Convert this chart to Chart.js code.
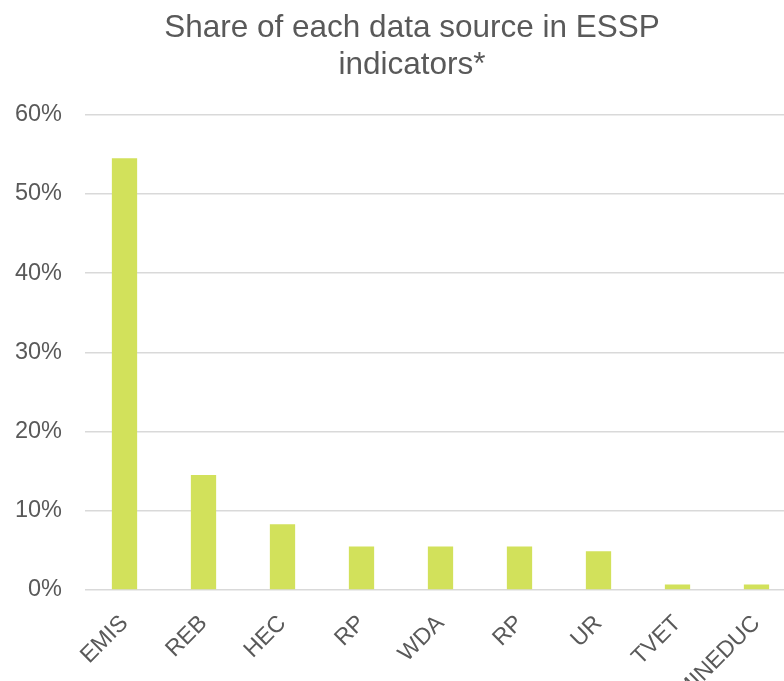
<html>
<head>
<meta charset="utf-8">
<style>
  body { margin: 0; overflow: hidden; background: #fff; }
  #wrap { width: 820px; height: 681px; }
</style>
</head>
<body>
<div id="wrap"><canvas id="myChart"></canvas></div>
<script src="https://cdn.jsdelivr.net/npm/chart.js"></script>
<script>
var sources = ['EMIS', 'REB', 'HEC', 'RP', 'WDA', 'RP', 'UR', 'TVET', 'MINEDUC'];
var shares = [54.5, 14.5, 8.3, 5.5, 5.5, 5.5, 4.9, 0.7, 0.7];
var yTicks = [0, 10, 20, 30, 40, 50, 60];

var grey = '#595959';
Chart.defaults.font.family = '"Liberation Sans", Arial, sans-serif';

// the original title sits a little right of the canvas centre
var nudgeTitle = {
    id: 'nudgeTitle',
    afterLayout: function(chart) {
        var t = chart.titleBlock;
        if (t) { t.left += 14; t.right += 14; }
    }
};

var ctx = document.getElementById('myChart').getContext('2d');
var chart = new Chart(ctx, {
    type: 'bar',
    data: {
        labels: sources,
        datasets: [{
            data: shares,
            backgroundColor: '#d2e15b',
            borderWidth: 0,
            categoryPercentage: 1,
            barPercentage: 0.32
        }]
    },
    plugins: [nudgeTitle],
    options: {
        responsive: true,
        maintainAspectRatio: false,
        animation: false,
        layout: { padding: { left: 0, right: 24, top: 0, bottom: 0 } },
        plugins: {
            legend: { display: false },
            tooltip: { enabled: false },
            title: {
                display: true,
                text: ['Share of each data source in ESSP', 'indicators*'],
                color: grey,
                font: { size: 31.5, weight: 'normal', lineHeight: 1.2 },
                padding: { top: 9, bottom: 30 }
            }
        },
        scales: {
            x: {
                grid: { display: false },
                border: { display: false },
                ticks: {
                    color: grey,
                    font: { size: 23 },
                    minRotation: 45,
                    maxRotation: 45,
                    autoSkip: false,
                    padding: 12
                },
                afterFit: function(scale) { scale.height = 91; }
            },
            y: {
                min: 0,
                max: 60,
                afterBuildTicks: function(scale) {
                    scale.ticks = yTicks.map(function(v) { return { value: v }; });
                },
                grid: { color: '#d9d9d9', lineWidth: 1.5, drawTicks: false },
                border: { display: false },
                ticks: {
                    color: grey,
                    font: { size: 23.5 },
                    padding: 23,
                    callback: function(v) { return v + '%'; }
                },
                afterFit: function(scale) { scale.width = 85; }
            }
        }
    }
});
</script>
</body>
</html>
